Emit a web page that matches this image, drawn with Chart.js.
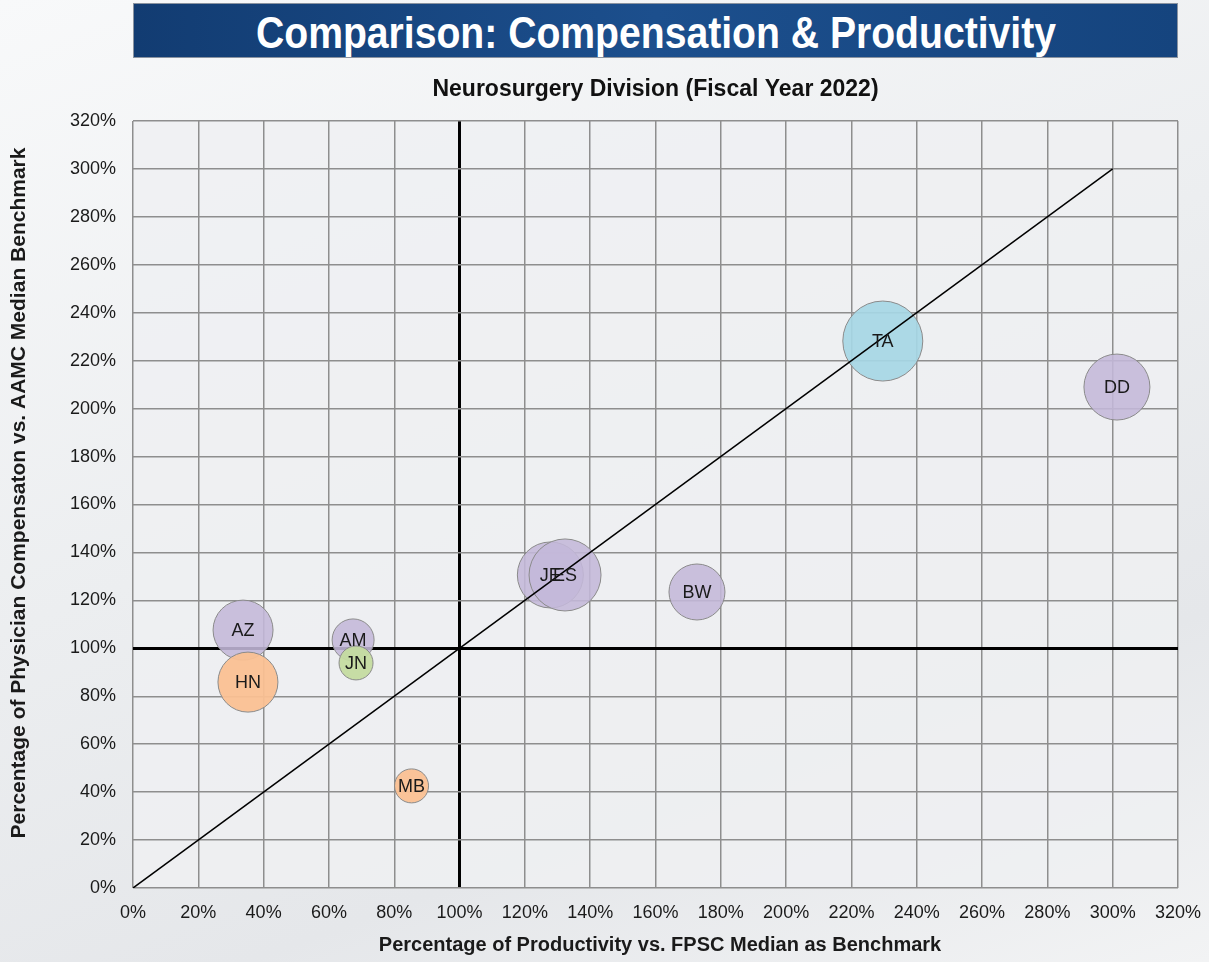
<!DOCTYPE html>
<html>
<head>
<meta charset="utf-8">
<script src="https://cdn.jsdelivr.net/npm/chart.js@4.4.1/dist/chart.umd.min.js"></script>
<style>
  html, body { margin: 0; padding: 0; }
  body {
    width: 1209px; height: 962px; overflow: hidden; position: relative;
    background: linear-gradient(160deg, #f8f9fa 0%, #eceef0 45%, #e5e7ea 75%, #f2f3f4 100%);
    font-family: "Liberation Sans", Arial, sans-serif;
  }
  #banner {
    position: absolute; left: 133px; top: 3px; width: 1043px; height: 53px;
    background: linear-gradient(90deg, #123c72, #1c4f8d 50%, #15447e);
    border: 1px solid #8a93a0;
  }
  #banner span {
    position: absolute; left: 50%; top: 50%;
    color: #fff; font-weight: bold; font-size: 44px; white-space: nowrap;
    line-height: 1;
  }
  canvas { position: absolute; left: 0; top: 0; }
</style>
</head>
<body>
<div id="banner"><span>Comparison: Compensation &amp; Productivity</span></div>
<canvas id="chart" width="1209" height="962"></canvas>
<script>
// physicians
const labels = ["DD", "TA", "BW", "JE", "ES", "AZ", "HN", "AM", "JN", "MB"];
// % of productivity vs FPSC median
const productivity = [301.3, 229.6, 172.7, 127.8, 132.3, 33.7, 35.2, 67.4, 68.3, 85.3];
// % of compensation vs AAMC median
const compensation = [209.0, 228.2, 123.5, 130.6, 130.6, 107.6, 85.9, 103.5, 93.9, 42.6];
// bubble size
const bubbleSize = [33, 40, 28, 33, 36, 30, 30, 21, 17, 17];
const groups = ["purple", "blue", "purple", "purple", "purple", "purple", "orange", "purple", "green", "orange"];

// reference diagonal
const diagX = [0, 300];
const diagY = [0, 300];

const xTitle = "Percentage of Productivity vs. FPSC Median as Benchmark";
const yTitle = "Percentage of Physician Compensaton vs. AAMC Median Benchmark";

const palette = {
  purple: "rgba(196,184,218,0.88)",
  blue: "rgba(166,215,229,0.92)",
  orange: "rgba(250,192,146,0.95)",
  green: "rgba(196,219,160,0.95)"
};

const FONT = '"Liberation Sans", Arial, sans-serif';

// fit banner title to its width
const span = document.querySelector("#banner span");
const w = span.getBoundingClientRect().width;
span.style.transform = "translate(-50%,-46%) scaleX(" + (800 / w) + ")";

const plotBg = {
  id: "plotBg",
  beforeDraw(chart) {
    const a = chart.chartArea, c = chart.ctx;
    c.save();
    c.fillStyle = "rgba(238,240,242,0.85)";
    c.fillRect(a.left, a.top, a.right - a.left, a.bottom - a.top);
    c.restore();
  }
};

// axis titles placed like the original (y title sits a bit above centre)
const axisTitles = {
  id: "axisTitles",
  afterDraw(chart) {
    const c = chart.ctx;
    c.save();
    c.fillStyle = "#1a1a1a";
    c.textAlign = "center";
    c.textBaseline = "middle";
    c.font = "bold 20px " + FONT;
    c.fillText(xTitle, 660, 945);
    c.font = "bold 21px " + FONT;
    c.translate(19, 493);
    c.rotate(-Math.PI / 2);
    c.fillText(yTitle, 0, 0);
    c.restore();
  }
};

const bubbleLabels = {
  id: "bubbleLabels",
  afterDatasetsDraw(chart) {
    const meta = chart.getDatasetMeta(1);
    const c = chart.ctx;
    c.save();
    c.font = "18px " + FONT;
    c.fillStyle = "#1a1a1a";
    c.textAlign = "center";
    c.textBaseline = "middle";
    meta.data.forEach((pt, i) => c.fillText(labels[i], pt.x, pt.y + 1));
    c.restore();
  }
};

const gridColor = ctx => ctx.tick && ctx.tick.value === 100 ? "#000" : "#8e8e8e";
const gridWidth = ctx => ctx.tick && ctx.tick.value === 100 ? 3 : 1.5;

new Chart(document.getElementById("chart"), {
  type: "bubble",
  data: {
    datasets: [
      {
        type: "line",
        data: diagX.map((x, i) => ({ x, y: diagY[i] })),
        borderColor: "#000",
        borderWidth: 1.5,
        pointRadius: 0,
        fill: false,
        order: 0
      },
      {
        data: labels.map((l, i) => ({ x: productivity[i], y: compensation[i], r: bubbleSize[i] })),
        backgroundColor: groups.map(g => palette[g]),
        borderColor: "#8a8a8a",
        borderWidth: 1,
        order: 1
      }
    ]
  },
  options: {
    responsive: false,
    animation: false,
    layout: { autoPadding: false, padding: { left: 0, right: 31, top: 0, bottom: 0 } },
    plugins: {
      legend: { display: false },
      tooltip: { enabled: false },
      title: {
        display: true,
        fullSize: false,
        text: "Neurosurgery Division (Fiscal Year 2022)",
        color: "#111",
        font: { family: FONT, size: 23, weight: "bold", lineHeight: 1.2 },
        padding: { top: 76, bottom: 17.4 }
      }
    },
    scales: {
      x: {
        type: "linear",
        min: 0, max: 320,
        ticks: { stepSize: 20, callback: v => v + "%", color: "#1a1a1a", font: { family: FONT, size: 18 }, padding: 14 },
        grid: { color: gridColor, lineWidth: gridWidth, drawTicks: false },
        border: { display: false },
        afterFit: s => { s.height = 74; s.paddingRight = 0; s.paddingLeft = 0; }
      },
      y: {
        min: 0, max: 320,
        ticks: { stepSize: 20, callback: v => v + "%", color: "#1a1a1a", font: { family: FONT, size: 18 }, padding: 17 },
        grid: { color: gridColor, lineWidth: gridWidth, drawTicks: false },
        border: { display: false },
        afterFit: s => { s.width = 133; }
      }
    }
  },
  plugins: [plotBg, bubbleLabels, axisTitles]
});
</script>
</body>
</html>
